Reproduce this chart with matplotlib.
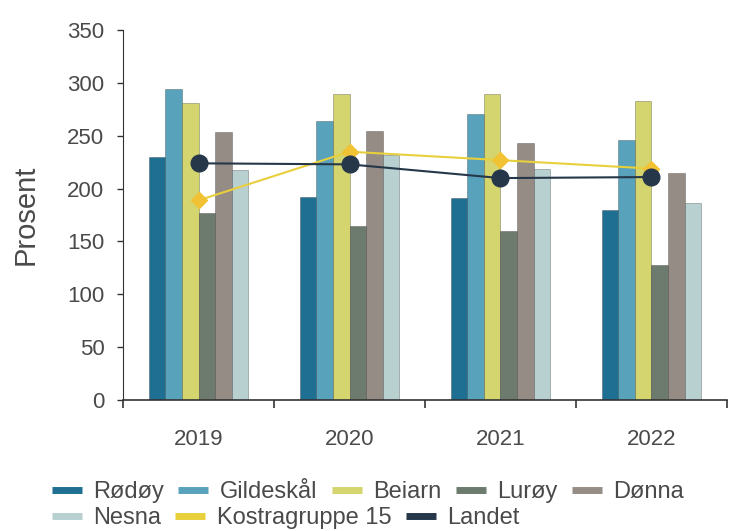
import numpy as np
import matplotlib
matplotlib.use("Agg")
import matplotlib.pyplot as plt
from matplotlib.lines import Line2D

plt.rcParams['font.family'] = ['Liberation Sans', 'DejaVu Sans']

years = ['2019', '2020', '2021', '2022']

rodoy = [230, 192, 191, 180]
gildeskal = [294, 264, 271, 246]
beiarn = [281, 290, 290, 283]
luroy = [177, 165, 160, 128]
donna = [254, 255, 243, 215]
nesna = [218, 232, 219, 186]
kostra15 = [189, 235, 227, 219]
landet = [224, 223, 210, 211]

bar_names = ['Rødøy', 'Gildeskål', 'Beiarn', 'Lurøy', 'Dønna', 'Nesna']
bar_series = [rodoy, gildeskal, beiarn, luroy, donna, nesna]
bar_colors = ['#1e6f92', '#58a3bb', '#d4d56e', '#6c7b6e', '#968c86', '#b9d0d0']

kostra_col = '#e8cf3c'
landet_col = '#26374a'
text_col = '#4a4a4a'

fig = plt.figure(figsize=(7.29, 5.31), dpi=100)
ax = fig.add_axes([0.169, 0.247, 0.828, 0.696])

x = np.arange(len(years))
w = 0.66 / len(bar_series)
for i, (vals, col) in enumerate(zip(bar_series, bar_colors)):
    ax.bar(x - 0.33 + w * (i + 0.5), vals, width=w, color=col,
           edgecolor=(0, 0, 0, 0.25), linewidth=0.7, zorder=2)

ax.plot(x, kostra15, color=kostra_col, lw=1.5, marker='D', markersize=8.5,
        markerfacecolor='#f0c234', markeredgecolor='#f0c234', zorder=3)
ax.plot(x, landet, color=landet_col, lw=1.5, marker='o', markersize=12,
        markerfacecolor=landet_col, markeredgecolor=landet_col, zorder=4)

ax.set_xlim(-0.5, 3.5)
ax.set_ylim(0, 350)
ax.set_yticks(np.arange(0, 351, 50))
ax.set_xticks(x)
ax.set_xticklabels(years)
ax.set_xticks(np.arange(-0.5, 3.6, 1), minor=True)
ax.tick_params(axis='x', which='major', length=0, pad=21, labelsize=16, colors=text_col)
ax.tick_params(axis='x', which='minor', length=6, width=1.2, color='#333333')
ax.tick_params(axis='y', length=4.5, width=1, color='#333333', labelsize=16,
               labelcolor=text_col, pad=9)

for s in ['top', 'right']:
    ax.spines[s].set_visible(False)
ax.spines['left'].set_color('#333333')
ax.spines['bottom'].set_color('#333333')
ax.spines['bottom'].set_linewidth(1.2)

ax.set_ylabel('Prosent', fontsize=21, color=text_col, labelpad=20)

def handle(col):
    return Line2D([0], [0], color=col, lw=5, solid_capstyle='butt')

row1 = [handle(c) for c in bar_colors[:5]]
row2 = [handle(bar_colors[5]), handle(kostra_col), handle(landet_col)]

leg_kw = dict(frameon=False, fontsize=17, handlelength=1.27, handletextpad=0.47,
              columnspacing=0.62, labelcolor=text_col, borderaxespad=0, borderpad=0)
fig.legend(row1, bar_names[:5], ncol=5, loc='center left',
           bbox_to_anchor=(0.071, 0.073), **leg_kw)
fig.legend(row2, ['Nesna', 'Kostragruppe 15', 'Landet'], ncol=3, loc='center left',
           bbox_to_anchor=(0.071, 0.024), **leg_kw)

fig.savefig('out.png', dpi=100)
